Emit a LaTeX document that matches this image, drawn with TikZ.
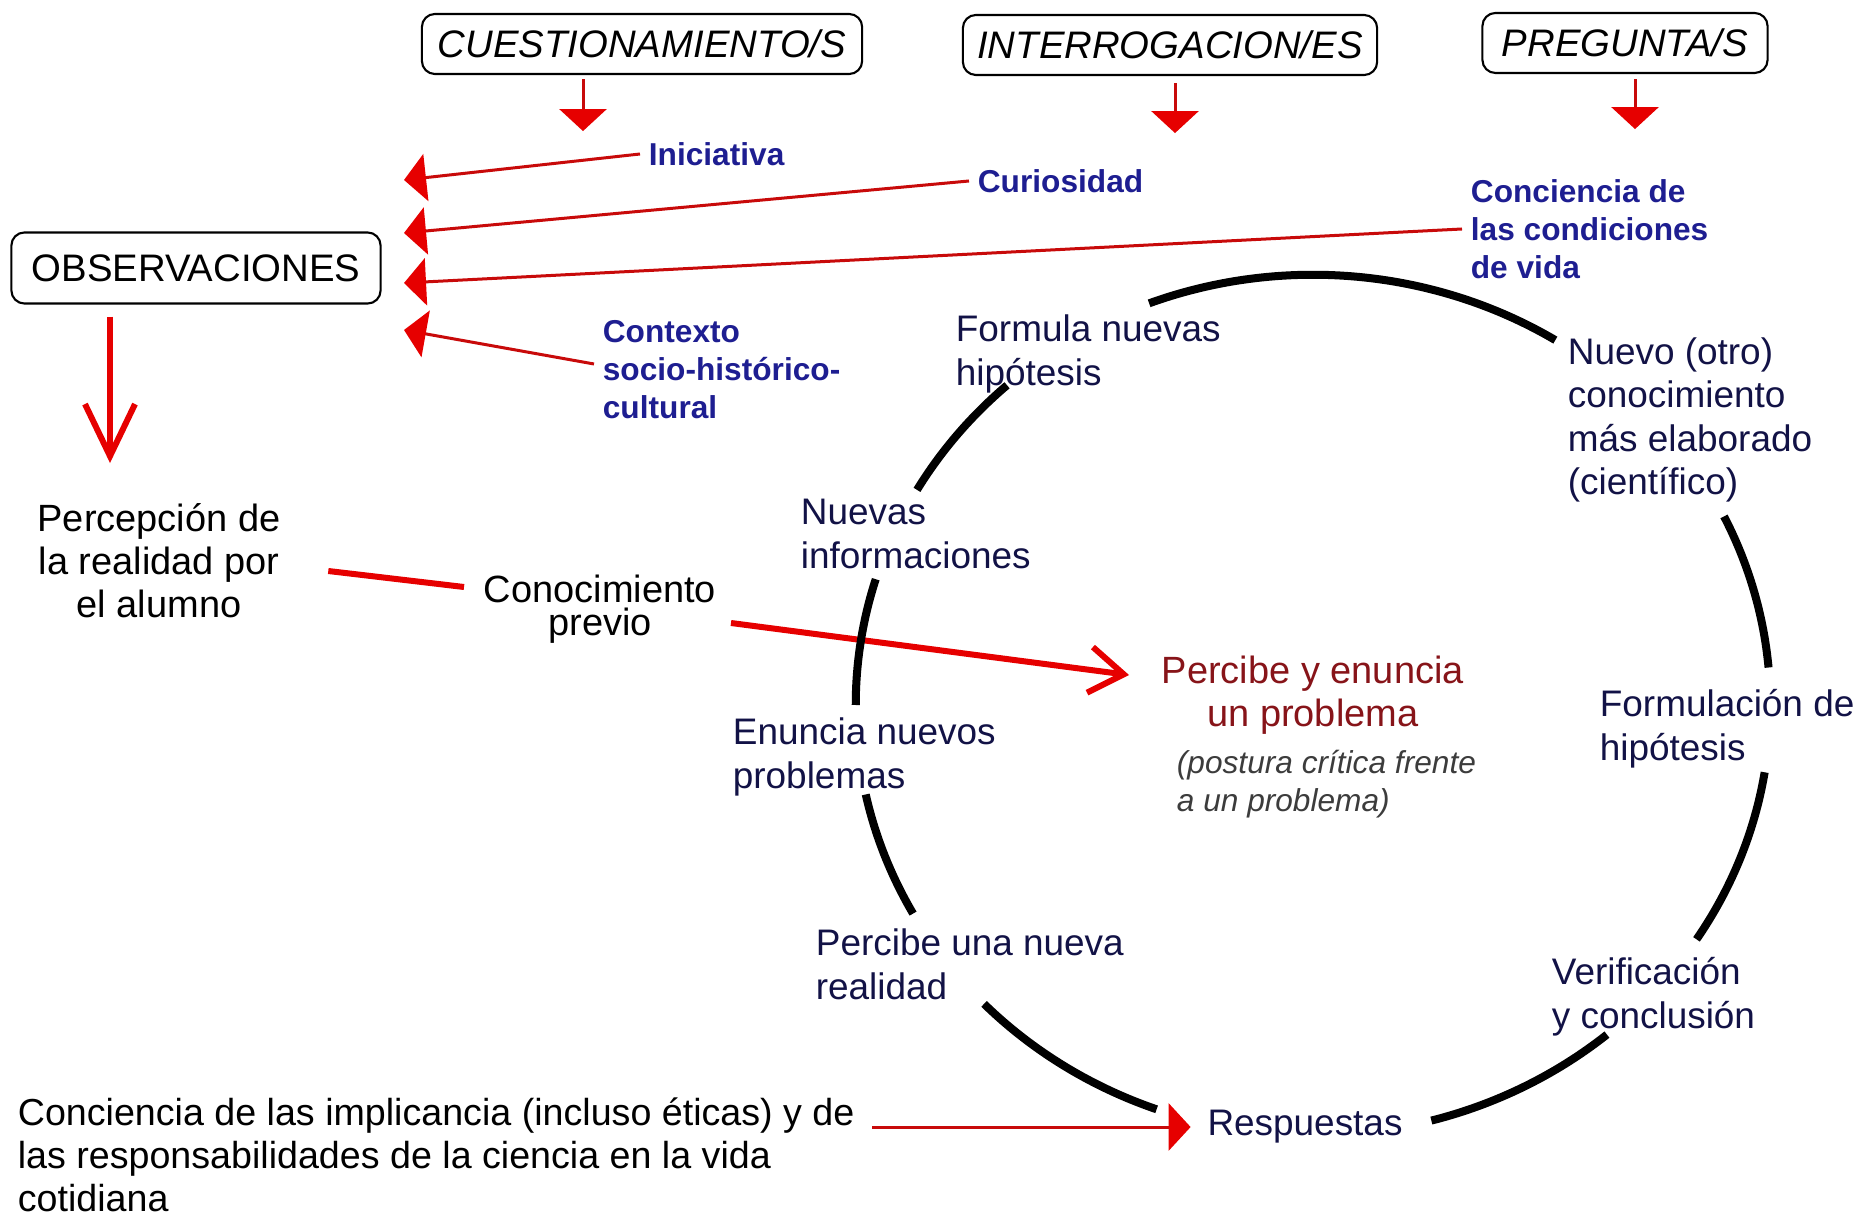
\documentclass[tikz,border=0pt]{standalone}
\usepackage{fontspec}
\setmainfont{Liberation Sans}
\usetikzlibrary{arrows.meta}
\definecolor{rojo}{RGB}{230,0,0}
\definecolor{granate}{RGB}{200,10,10}
\definecolor{azul}{RGB}{30,30,145}
\definecolor{marino}{RGB}{18,18,70}
\definecolor{vino}{RGB}{135,20,25}
\definecolor{gris}{RGB}{60,60,60}
\begin{document}
\begin{tikzpicture}[x=0.01cm,y=-0.01cm,line width=0.5pt,
    qbox/.style={draw,rounded corners=0.13cm,line width=0.6pt,minimum height=0.6cm,font=\fontsize{10.9}{13}\selectfont\itshape},
    cue/.style={text=azul,align=left,inner xsep=0.08cm,inner ysep=0pt,font=\fontsize{9}{10.8}\selectfont\bfseries},
    stage/.style={text=marino,align=left,inner sep=0pt,font=\fontsize{10.5}{12.4}\selectfont},
    txt/.style={align=center,inner sep=0pt,font=\fontsize{10.8}{12.2}\selectfont},
    redin/.style={granate,line width=0.03cm,-{Triangle[width=0.47cm,length=0.22cm,color=rojo]}},
    redline/.style={rojo,line width=0.06cm},
    cyc/.style={line width=0.08cm}]
    \useasboundingbox (0,0) rectangle (1864,1216);

    \node[qbox,minimum width=4.4cm] (q1) at (642,44) {CUESTIONAMIENTO/S};
    \node[qbox,minimum width=4.14cm] (q2) at (1170,45) {INTERROGACION/ES};
    \node[qbox,minimum width=2.85cm] (q3) at (1625,43) {PREGUNTA/S};
    \node[qbox,font=\fontsize{10.9}{13}\selectfont,minimum width=3.69cm,minimum height=0.71cm] (o) at (196,268) {OBSERVACIONES};

    \draw[redin] (q1.south -| 583,0) ++(0,4) -- ++(0,52);
    \draw[redin] (q2.south -| 1175,0) ++(0,7) -- ++(0,50);
    \draw[redin] (q3.south -| 1635,0) ++(0,5) -- ++(0,50);

    \node[cue,anchor=west] (ini) at (640,154) {Iniciativa};
    \node[cue,anchor=west] (cur) at (969,181) {Curiosidad};
    \node[cue,anchor=west] (cv) at (1462,229) {Conciencia de\\las condiciones\\de vida};
    \node[cue,anchor=west] (ctx) at (594,370) {Contexto\\socio-histórico-\\cultural};
    \coordinate (t1) at (404,180);
    \coordinate (t2) at (404,233);
    \coordinate (t3) at (404,283);
    \coordinate (t4) at (404,330);
    \draw[redin] (ini.west) -- (t1);
    \draw[redin] (cur.west) -- (t2);
    \draw[redin] (cv.west) -- (t3);
    \draw[redin] ([yshift=0.06cm]ctx.west) -- (t4);

    \node[txt] (p) at (159,561) {Percepción de\\la realidad por\\el alumno};
    \node[txt,font=\fontsize{10.8}{9.4}\selectfont] (k) at (600,609) {Conocimiento\\previo};
    \node[txt,text=vino,anchor=west] (pe) at (1161,695) {Percibe y enuncia\\un problema};
    \node[stage,text=gris,font=\fontsize{9}{10.8}\selectfont\itshape,anchor=west] (pc) at (1176,784) {(postura crítica frente\\a un problema)};
    \draw[redline,shorten >=0.4cm,-{Straight Barb[length=0.52cm,width=0.5cm]}] (o.south -| 110,0) ++(0,12) -- (p.north -| 110,0);
    \draw[redline] ([shift={(47,10)}]p.east) -- ([shift={(-19,-22)}]k.west);
    \draw[redline,-{Straight Barb[length=0.34cm,width=0.46cm]}] ([shift={(14,14)}]k.east) -- ([shift={(-32,-20)}]pe.west);

    \node[stage,anchor=west] (s1) at (955,354) {Formula nuevas\\hipótesis};
    \node[stage,anchor=west] (s2) at (1567,420) {Nuevo (otro)\\conocimiento\\más elaborado\\(científico)};
    \node[stage,anchor=west] (s3) at (800,534) {Nuevas\\informaciones};
    \node[stage,anchor=west] (s4) at (732,757) {Enuncia nuevos\\problemas};
    \node[stage,anchor=west] (s5) at (1599,729) {Formulación de\\hipótesis};
    \node[stage,anchor=west] (s6) at (815,964) {Percibe una nueva\\realidad};
    \node[stage,anchor=west] (s7) at (1551,997) {Verificación\\y conclusión};
    \node[stage] (r) at (1305,1127) {Respuestas};
    \node[txt,align=left,anchor=west,font=\fontsize{10.7}{12.2}\selectfont] (im) at (17,1155) {Conciencia de las implicancia (incluso éticas) y de\\las responsabilidades de la ciencia en la vida\\cotidiana};
    \draw[redin,shorten <=0.17cm,shorten >=0.16cm] (im.east |- r.west) -- (r.west);

    \coordinate (m) at (1313,705);
    \foreach \a/\b in {111/58,132/150,163/180,192/209,224/250,285/310,327/351,5/26}
        \draw[cyc] (m) ++(\a:4.57cm and 4.3cm) arc[start angle=\a,end angle=\b,x radius=4.57cm,y radius=4.3cm];
\end{tikzpicture}
\end{document}
